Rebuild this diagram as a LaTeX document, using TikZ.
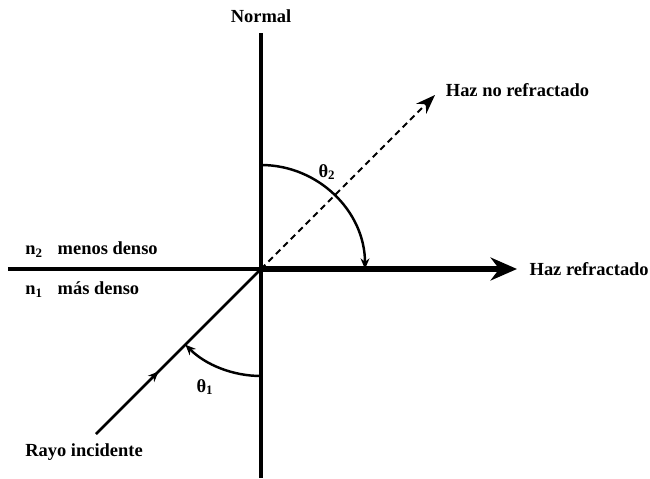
\documentclass[tikz,border=0pt]{standalone}
\usepackage{fontspec}
\setmainfont{Liberation Serif}
\usetikzlibrary{arrows.meta,positioning,decorations.markings}

\begin{document}
\begin{tikzpicture}[>=Stealth,
    lbl/.style={font=\bfseries\fontsize{10.5}{12}\selectfont, inner sep=0pt},
    ray/.style={line width=1.5pt},
    angarc/.style={line width=1.4pt, -{Stealth[length=6pt,width=5pt]}}]
    \def\rOne{2.14}
    \def\rTwo{2.08}
    \useasboundingbox (-5.22,-4.18) rectangle (7.78,5.38);

    \coordinate (O) at (0,0);
    \coordinate (N) at (0,4.72);
    \coordinate (S) at (0,-4.18);
    \coordinate (W) at (-5.06,0);
    \coordinate (E) at (5.12,0);
    \coordinate (I) at (-3.3,-3.3);
    \coordinate (D) at (3.48,3.48);

    % Normal line
    \draw[line width=2pt] (S) -- (N);
    \node[lbl, above=5.5pt of N] (normal) {Normal};

    % Interface and refracted beam
    \draw[line width=1.9pt] (W) -- (O);
    \draw[line width=3.6pt, -{Stealth[length=15pt,width=13pt]}] (O) -- (E);
    \node[lbl, right=7pt of E] (refr) {Haz refractado};

    % Beam that is not refracted
    \draw[line width=1.2pt, dash pattern=on 3.5pt off 2.5pt, -{Stealth[length=11pt,width=8pt]}] (O) -- (D);
    \node[lbl, right=6pt of D, yshift=3pt] (norefr) {Haz no refractado};

    % Incident ray with arrow half way
    \draw[ray, postaction={decorate},
        decoration={markings, mark=at position 0.38 with {\arrow{Stealth[length=6pt,width=5pt]}}}]
        (I) -- (O);
    \node[lbl, anchor=west] (rayo) at (-4.72,-3.66) {Rayo incidente};

    % Angles
    \draw[angarc] (0,\rTwo) arc[start angle=90, end angle=0, radius=\rTwo];
    \node[lbl] (th2) at (1.32,1.94) {θ\textsubscript{2}};
    \draw[angarc] (0,-\rOne) arc[start angle=270, end angle=225, radius=\rOne];
    \node[lbl] (th1) at (-1.12,-2.36) {θ\textsubscript{1}};

    % Media
    \node[lbl, anchor=west] (n2) at (-4.72,0.38) {n\textsubscript{2}\hspace{0.8em}menos denso};
    \node[lbl, anchor=west] (n1) at (-4.72,-0.42) {n\textsubscript{1}\hspace{0.8em}más denso};
\end{tikzpicture}
\end{document}
